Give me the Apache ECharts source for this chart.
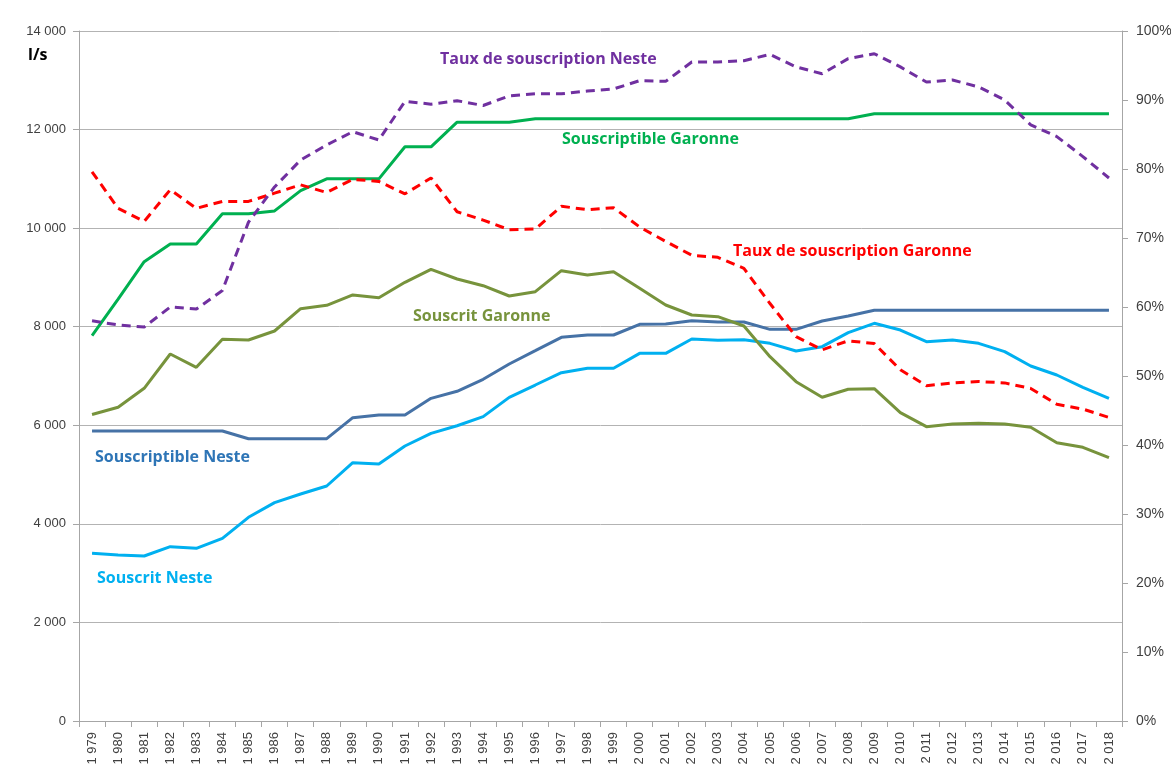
<!DOCTYPE html>
<html>
<head>
<meta charset="utf-8">
<script src="https://cdn.jsdelivr.net/npm/echarts@6/dist/echarts.min.js"></script>
<style>
    html, body { margin: 0; padding: 0; background: #fff; }
    #chart { width: 1171px; height: 772px; }
</style>
</head>
<body>
<div id="chart"></div>
<script>
    const years = [];
    for (let y = 1979; y <= 2018; y++) years.push(String(y));

    // l/s (left axis)
    const souscriptibleGaronne = [7820, 8560, 9320, 9680, 9680, 10290, 10290, 10350, 10760, 11000,
        11000, 11000, 11650, 11650, 12150, 12150, 12150, 12220, 12220, 12220,
        12220, 12220, 12220, 12220, 12220, 12220, 12220, 12220, 12220, 12220,
        12320, 12320, 12320, 12320, 12320, 12320, 12320, 12320, 12320, 12320];
    const souscritGaronne = [6220, 6365, 6750, 7446, 7176, 7744, 7730, 7913, 8366, 8434,
        8644, 8589, 8901, 9165, 8968, 8832, 8623, 8711, 9137, 9049,
        9117, 8779, 8441, 8238, 8204, 8015, 7392, 6885, 6568, 6730,
        6743, 6256, 5972, 6026, 6040, 6026, 5959, 5647, 5553, 5343];
    const souscriptibleNeste = [5884, 5884, 5884, 5884, 5884, 5884, 5728, 5728, 5728, 5728,
        6155, 6209, 6209, 6547, 6690, 6933, 7244, 7514, 7785, 7832,
        7832, 8049, 8055, 8123, 8096, 8096, 7947, 7947, 8116, 8217,
        8333, 8333, 8333, 8333, 8333, 8333, 8333, 8333, 8333, 8333];
    const souscritNeste = [3402, 3368, 3348, 3537, 3503, 3706, 4133, 4430, 4606, 4768,
        5241, 5215, 5580, 5837, 5990, 6175, 6567, 6817, 7068, 7156,
        7156, 7460, 7460, 7751, 7724, 7737, 7663, 7507, 7595, 7879,
        8069, 7933, 7697, 7730, 7663, 7494, 7203, 7020, 6770, 6547];

    // ratios (right axis)
    const tauxNeste = [0.580, 0.574, 0.571, 0.600, 0.597, 0.624, 0.723, 0.774, 0.813, 0.835,
        0.854, 0.842, 0.898, 0.894, 0.899, 0.892, 0.906, 0.909, 0.909, 0.913,
        0.916, 0.928, 0.927, 0.955, 0.955, 0.957, 0.966, 0.948, 0.938, 0.960,
        0.967, 0.948, 0.926, 0.929, 0.919, 0.900, 0.864, 0.847, 0.818, 0.787];
    const tauxGaronne = [0.796, 0.743, 0.724, 0.770, 0.743, 0.753, 0.753, 0.765, 0.777, 0.766,
        0.785, 0.782, 0.764, 0.787, 0.738, 0.726, 0.712, 0.713, 0.746, 0.741,
        0.744, 0.716, 0.695, 0.675, 0.672, 0.656, 0.605, 0.557, 0.538, 0.551,
        0.547, 0.509, 0.486, 0.490, 0.492, 0.490, 0.482, 0.459, 0.452, 0.440];

    const thousands = v => String(v).replace(/\B(?=(\d{3})+(?!\d))/g, ' ');

    function line(name, data, color, yAxisIndex, dashed) {
        return {
            name: name,
            type: 'line',
            yAxisIndex: yAxisIndex,
            data: data,
            symbol: 'none',
            lineStyle: { color: color, width: 3, type: dashed ? [9, 6] : 'solid', cap: 'butt' },
            itemStyle: { color: color },
            z: dashed ? 3 : 2
        };
    }

    const labelFont = '"Open Sans", "Noto Sans", sans-serif';
    function tag(text, x, y, color) {
        return {
            type: 'text', left: x, top: y,
            style: { text: text, fill: color, font: 'bold 16px ' + labelFont }
        };
    }

    const axisFont = '"Liberation Sans", Arial, sans-serif';
    const chart = echarts.init(document.getElementById('chart'));
    chart.setOption({
        animation: false,
        backgroundColor: '#fff',
        grid: { left: 79, right: 49, top: 31, bottom: 51, containLabel: false, outerBoundsMode: 'none' },
        xAxis: {
            type: 'category',
            data: years,
            boundaryGap: true,
            axisLine: { lineStyle: { color: '#a6a6a6' } },
            axisTick: { show: true, alignWithLabel: false, length: 6, lineStyle: { color: '#a6a6a6' } },
            axisLabel: {
                interval: 0, rotate: 90, margin: 11,
                color: '#404040', fontSize: 13, fontFamily: axisFont,
                formatter: thousands
            }
        },
        yAxis: [
            {
                type: 'value', min: 0, max: 14000, interval: 2000,
                axisLine: { show: true, lineStyle: { color: '#a6a6a6' } },
                axisTick: { show: true, length: 6, lineStyle: { color: '#a6a6a6' } },
                splitLine: { lineStyle: { color: '#b3b3b3', width: 1 } },
                axisLabel: {
                    color: '#404040', fontSize: 13, margin: 13,
                    fontFamily: axisFont,
                    formatter: thousands
                }
            },
            {
                type: 'value', min: 0, max: 1, interval: 0.1, position: 'right',
                axisLine: { show: true, lineStyle: { color: '#a6a6a6' } },
                axisTick: { show: true, length: 6, lineStyle: { color: '#a6a6a6' } },
                splitLine: { show: false },
                axisLabel: {
                    color: '#404040', fontSize: 14, margin: 14,
                    fontFamily: axisFont,
                    formatter: v => Math.round(v * 100) + '%'
                }
            }
        ],
        series: [
            line('Souscrit Neste', souscritNeste, '#00b0f0', 0, false),
            line('Souscriptible Neste', souscriptibleNeste, '#4672a6', 0, false),
            line('Souscrit Garonne', souscritGaronne, '#77933c', 0, false),
            line('Souscriptible Garonne', souscriptibleGaronne, '#00b050', 0, false),
            line('Taux de souscription Garonne', tauxGaronne, '#ff0000', 1, true),
            line('Taux de souscription Neste', tauxNeste, '#7030a0', 1, true)
        ],
        graphic: [
            { type: 'text', left: 28, top: 47, style: { text: 'l/s', fill: '#000', font: 'bold 16px ' + labelFont } },
            tag('Taux de souscription Neste', 440, 51, '#7030a0'),
            tag('Souscriptible Garonne', 562, 131, '#00b050'),
            tag('Taux de souscription Garonne', 733, 243, '#ff0000'),
            tag('Souscrit Garonne', 413, 308, '#77933c'),
            tag('Souscriptible Neste', 95, 449, '#2e75b6'),
            tag('Souscrit Neste', 97, 570, '#00b0f0')
        ]
    });
</script>
</body>
</html>
